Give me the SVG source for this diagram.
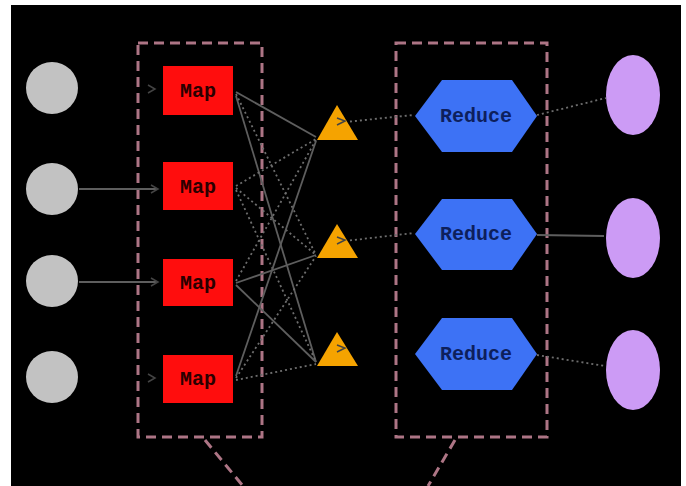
<svg xmlns="http://www.w3.org/2000/svg" width="686" height="486" viewBox="0 0 686 486">
<defs>
<style>
.input{fill:#c2c2c2}
.map{fill:#ff0d0d}
.maptxt{font-family:"Liberation Mono",monospace;font-weight:bold;font-size:20px;fill:#2a0000;text-anchor:middle}
.tri{fill:#f5a300}
.red{fill:#3d72f5}
.redtxt{font-family:"Liberation Mono",monospace;font-weight:bold;font-size:20px;fill:#0d1f5c;text-anchor:middle}
.out{fill:#cc9bf5}
.group{fill:none;stroke:#ad7585;stroke-width:3;stroke-dasharray:10 6}
.solid{fill:none;stroke:#5e5e5e;stroke-width:1.8}
.dot{fill:none;stroke:#6e6e6e;stroke-width:1.8;stroke-dasharray:2 3}
.mark{fill:none;stroke:#444;stroke-width:1.5}
</style>
</defs>
<rect x="0" y="0" width="686" height="486" fill="#fff"/>
<rect x="11" y="5" width="670" height="481" fill="#000"/>

<g id="groups">
<rect class="group" x="138" y="43" width="124" height="394"/>
<rect class="group" x="396" y="43" width="151" height="394"/>
<line class="group" x1="205" y1="440" x2="243" y2="486"/>
<line class="group" x1="455" y1="440" x2="428" y2="486"/>
</g>

<g id="connectors">
<line class="solid" x1="79" y1="189" x2="158" y2="189"/>
<line class="solid" x1="79" y1="282" x2="158" y2="282"/>
<path class="mark" d="M148,85 L155,89 L148,93"/>
<path class="mark" d="M151,185 L158,189 L151,193"/>
<path class="mark" d="M151,278 L158,282 L151,286"/>
<path class="mark" d="M148,374 L155,378 L148,382"/>

<line class="solid" x1="236" y1="92" x2="316" y2="137"/>
<line class="dot" x1="236" y1="94" x2="316" y2="255"/>
<line class="solid" x1="236" y1="96" x2="316" y2="362"/>
<line class="dot" x1="236" y1="186" x2="316" y2="139"/>
<line class="dot" x1="236" y1="188" x2="316" y2="255"/>
<line class="dot" x1="236" y1="190" x2="316" y2="362"/>
<line class="dot" x1="236" y1="281" x2="316" y2="140"/>
<line class="solid" x1="236" y1="283" x2="316" y2="255"/>
<line class="solid" x1="236" y1="285" x2="316" y2="362"/>
<line class="solid" x1="236" y1="376" x2="316" y2="141"/>
<line class="dot" x1="236" y1="378" x2="316" y2="256"/>
<line class="dot" x1="236" y1="380" x2="316" y2="364"/>

<line class="dot" x1="345" y1="122" x2="414" y2="115"/>
<line class="dot" x1="345" y1="241" x2="414" y2="233"/>
<line class="dot" x1="537" y1="115" x2="606" y2="98"/>
<line class="solid" x1="537" y1="235" x2="604" y2="236"/>
<line class="dot" x1="537" y1="355" x2="605" y2="366"/>
</g>

<g id="input1"><circle class="input" cx="52" cy="88" r="26"/></g>
<g id="input2"><circle class="input" cx="52" cy="189" r="26"/></g>
<g id="input3"><circle class="input" cx="52" cy="281" r="26"/></g>
<g id="input4"><circle class="input" cx="52" cy="377" r="26"/></g>

<g id="map1"><rect class="map" x="163" y="66" width="70" height="49"/><text class="maptxt" x="198" y="97">Map</text></g>
<g id="map2"><rect class="map" x="163" y="162" width="70" height="48"/><text class="maptxt" x="198" y="193">Map</text></g>
<g id="map3"><rect class="map" x="163" y="259" width="70" height="47"/><text class="maptxt" x="198" y="289">Map</text></g>
<g id="map4"><rect class="map" x="163" y="355" width="70" height="48"/><text class="maptxt" x="198" y="385">Map</text></g>

<g id="shuffle1"><polygon class="tri" points="337,105 317,140 358,140"/><path class="mark" d="M337,118 L345,121 L337,125"/></g>
<g id="shuffle2"><polygon class="tri" points="337,224 317,258 358,258"/><path class="mark" d="M337,237 L345,240 L337,244"/></g>
<g id="shuffle3"><polygon class="tri" points="337,332 317,366 358,366"/><path class="mark" d="M337,345 L345,348 L337,352"/></g>

<g id="reduce1"><polygon class="red" points="415,116 442,80 512,80 537,116 512,152 442,152"/><text class="redtxt" x="476" y="122">Reduce</text></g>
<g id="reduce2"><polygon class="red" points="415,234 442,199 512,199 537,234 512,270 442,270"/><text class="redtxt" x="476" y="240">Reduce</text></g>
<g id="reduce3"><polygon class="red" points="415,354 442,318 512,318 537,354 512,390 442,390"/><text class="redtxt" x="476" y="360">Reduce</text></g>

<g id="output1"><ellipse class="out" cx="633" cy="95" rx="27" ry="40"/></g>
<g id="output2"><ellipse class="out" cx="633" cy="238" rx="27" ry="40"/></g>
<g id="output3"><ellipse class="out" cx="633" cy="370" rx="27" ry="40"/></g>
</svg>
